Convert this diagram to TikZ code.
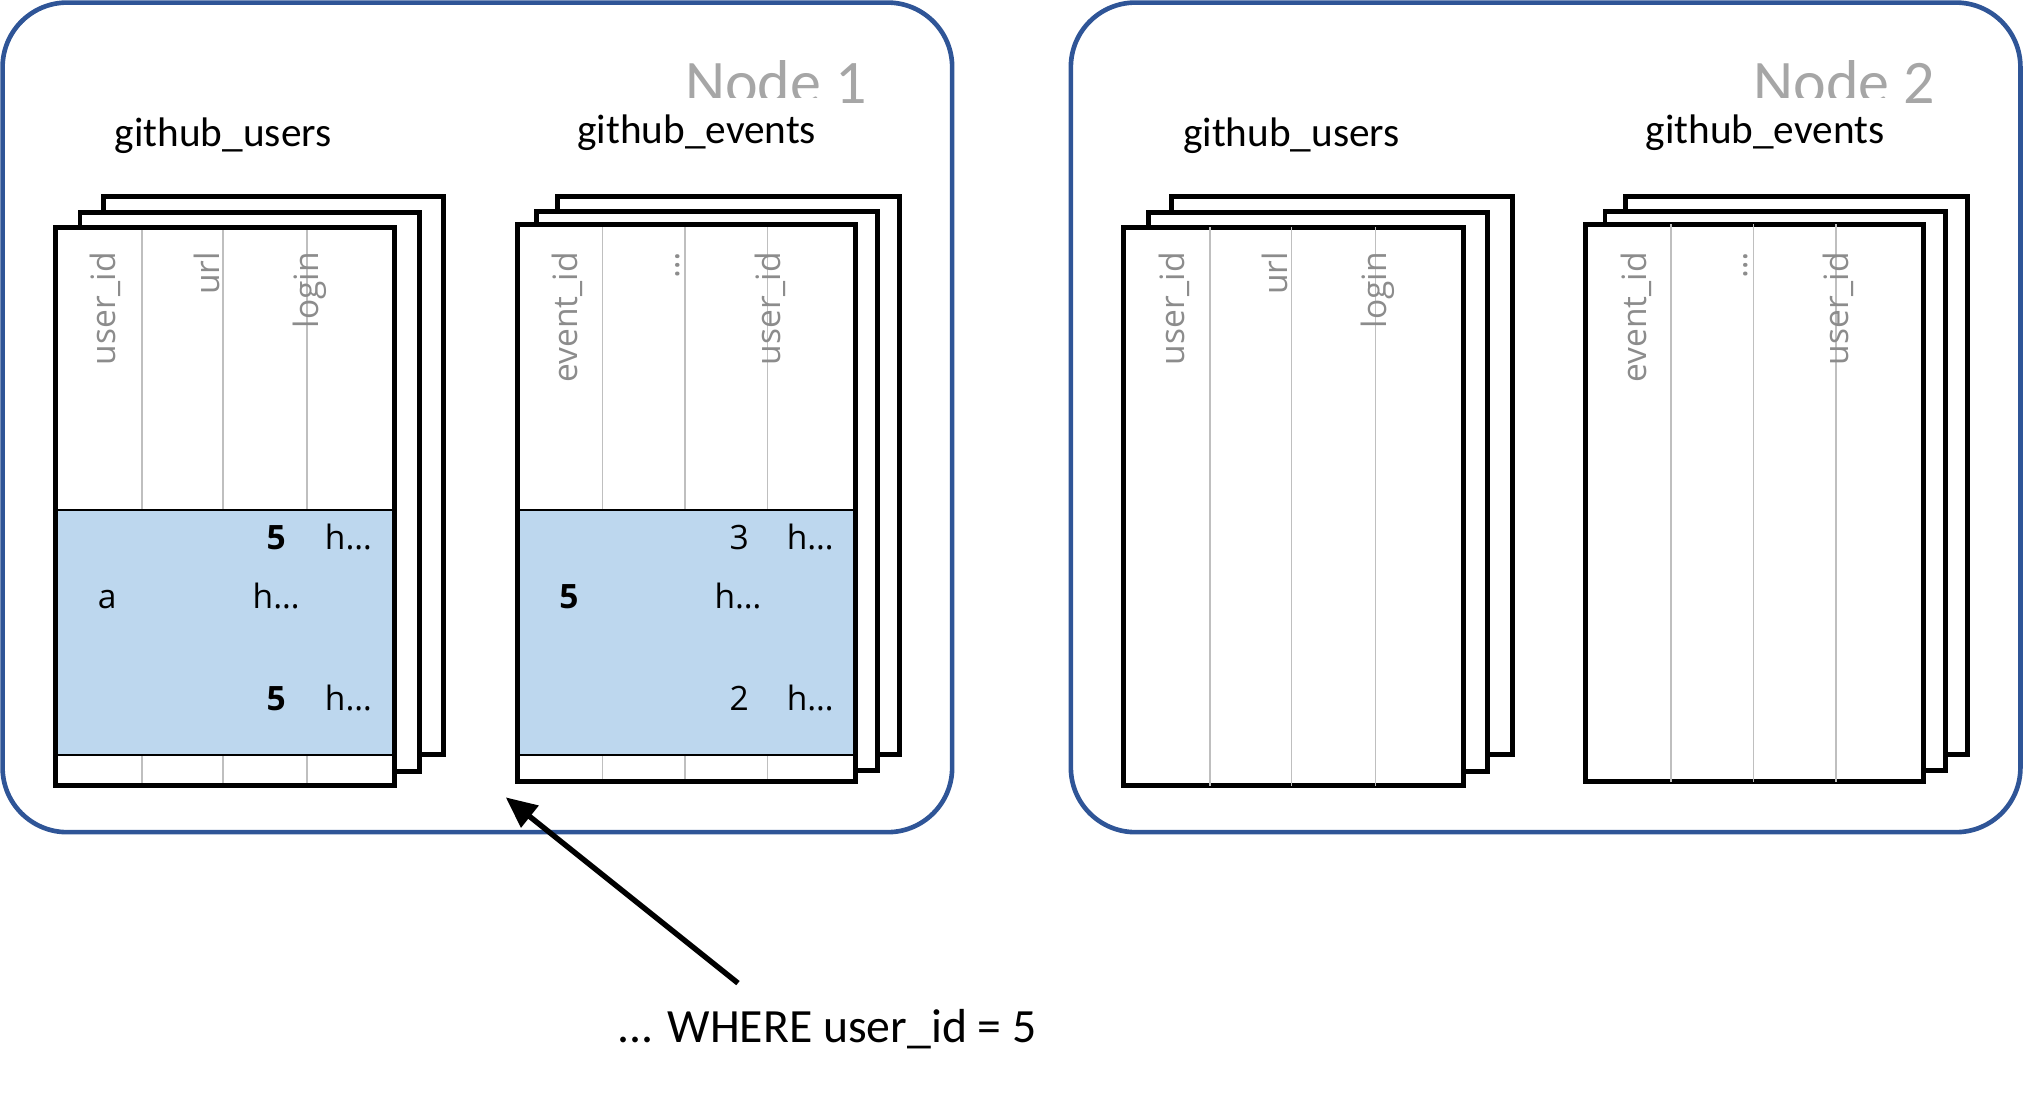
\documentclass[tikz,border=0pt]{standalone}
\usepackage{fontspec}
\setmainfont{Carlito}
\newfontfamily\tabfont{Open Sans}
\usetikzlibrary{arrows.meta}
\definecolor{nodeblue}{HTML}{2F5597}
\definecolor{bandblue}{HTML}{BDD7EE}
\definecolor{nodegray}{HTML}{A6A6A6}
\definecolor{hdrgray}{HTML}{8C8C8C}
\definecolor{colgray}{HTML}{BFBFBF}
\tikzset{
  nodebox/.style={draw=nodeblue, line width=1.8pt, rounded corners=25pt},
  sheet/.style={draw=black, line width=1.9pt, fill=white},
  frontedge/.style={draw=black, line width=1.9pt},
  colline/.style={draw=colgray, line width=0.6pt},
  bandline/.style={draw=black, line width=0.8pt},
  hdr/.style={font=\tabfont\fontsize{13}{15}\selectfont, text=hdrgray, rotate=90, anchor=east, inner sep=0pt},
  cell/.style={font=\tabfont\fontsize{13}{15}\selectfont, anchor=base, inner sep=0pt},
  bcell/.style={cell, font=\tabfont\bfseries\fontsize{13}{15}\selectfont},
  tlabel/.style={font=\fontsize{16}{19}\selectfont, inner sep=0pt},
  nlabel/.style={font=\fontsize{24}{28}\selectfont, text=nodegray, anchor=base east, inner sep=0pt},
  qlabel/.style={font=\fontsize{18.5}{22}\selectfont, anchor=base, inner sep=0pt},
  arrowline/.style={line width=2.1pt, -{Triangle[length=12pt,width=10.5pt]}}
}
\newcommand\machinecontent[2]{%
  \draw[nodebox] (2,2) rectangle (738,645);
  \node[nlabel] (#1-title) at (672,80) {Node #2};
  \fill[white] (440,76) rectangle (645,90);
  \node[tlabel] (#1-ulabel) at (173,105) {github\_users};
  \node[tlabel] (#1-elabel) at (540,103) {github\_events};
  % users stack
  \draw[sheet] (80,152) rectangle (344,585);
  \draw[sheet] (62,165) rectangle (325,598);
  \draw[sheet] (43,176) rectangle (306,609);
  \foreach \x in {110,173,238} \draw[colline] (\x,176) -- (\x,609);
  \node[hdr] (#1-uh1) at (82,195) {user\_id};
  \node[hdr] (#1-uh2) at (160,195) {url};
  \node[hdr] (#1-uh3) at (240,195) {login};
  % events stack
  \draw[sheet] (432,152) rectangle (697,585);
  \draw[sheet] (416,164) rectangle (680,597);
  \draw[sheet] (401,174) rectangle (663,606);
  \foreach \x in {467,531,595} \draw[colline] (\x,174) -- (\x,606);
  \node[hdr] (#1-eh1) at (440,195) {event\_id};
  \node[hdr] (#1-eh2) at (525,195) {…};
  \node[hdr] (#1-eh3) at (597,195) {user\_id};
}
\begin{document}
\begin{tikzpicture}[x=0.5pt, y=-0.5pt]
  \useasboundingbox (0,0) rectangle (1568,862);
  % Node 1
  \machinecontent{n1}{1}
  % shaded rows in users
  \fill[bandblue] (44,395) rectangle (305,585);
  \draw[bandline] (44,395) -- (305,395) (44,585) -- (305,585);
  \draw[frontedge] (43,176) rectangle (306,609);
  \node[bcell] (u1a) at (214,426) {5};
  \node[cell]  (u1b) at (270,426) {h…};
  \node[cell]  (u2a) at (83,472) {a};
  \node[cell]  (u2b) at (214,472) {h…};
  \node[bcell] (u3a) at (214,551) {5};
  \node[cell]  (u3b) at (270,551) {h…};
  % shaded rows in events
  \fill[bandblue] (402,395) rectangle (662,585);
  \draw[bandline] (402,395) -- (662,395) (402,585) -- (662,585);
  \draw[frontedge] (401,174) rectangle (663,606);
  \node[cell]  (e1a) at (573,426) {3};
  \node[cell]  (e1b) at (628,426) {h…};
  \node[bcell] (e2a) at (441,472) {5};
  \node[cell]  (e2b) at (572,472) {h…};
  \node[cell]  (e3a) at (573,551) {2};
  \node[cell]  (e3b) at (628,551) {h…};
  % Node 2
  \begin{scope}[shift={(828,0)}]
    \machinecontent{n2}{2}
  \end{scope}
  % query and arrow
  \node[qlabel] (query) at (641,808) {... WHERE user\_id = 5};
  \coordinate (qstart) at (572,762);
  \coordinate (qtip) at (392,618);
  \draw[arrowline] (qstart) -- (qtip);
\end{tikzpicture}
\end{document}
